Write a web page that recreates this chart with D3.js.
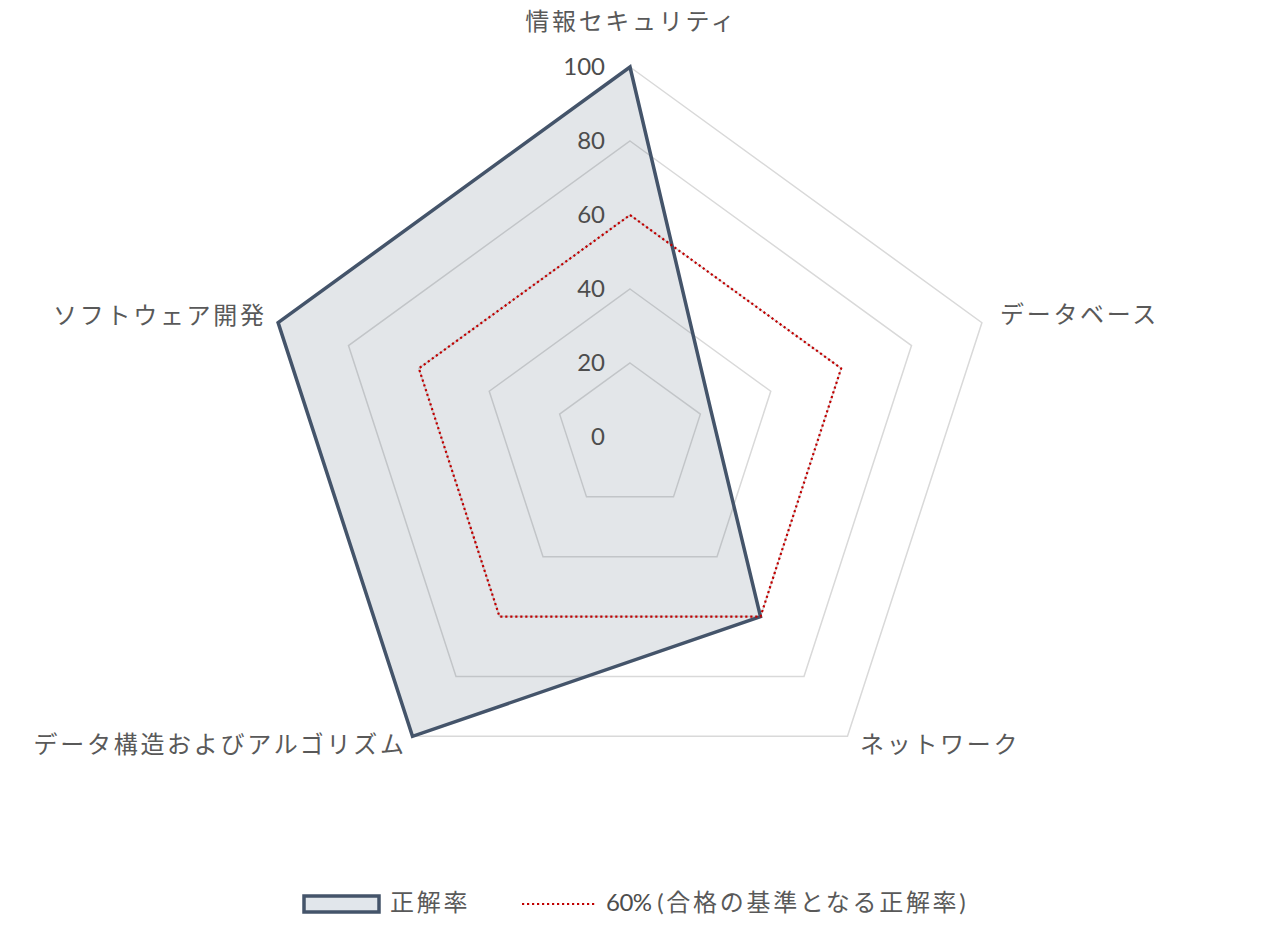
<!DOCTYPE html>
<html><head><meta charset="utf-8">
<script src="https://cdn.jsdelivr.net/npm/d3@7"></script>
<style>
html,body{margin:0;padding:0;background:#fff;}
text{font-family:"Lato","Noto Sans CJK JP",sans-serif;}
</style></head>
<body>
<svg id="c" width="1266" height="940"></svg>
<script>
const categories = ["情報セキュリティ","データベース","ネットワーク","データ構造およびアルゴリズム","ソフトウェア開発"];
const scoreValues = [100, 23, 60, 100, 100];
const passValues = [60, 60, 60, 60, 60];
const tickValues = [0, 20, 40, 60, 80, 100];
const seriesNames = ["正解率", "60% (合格の基準となる正解率)"];

const svg = d3.select("#c");
const cx = 630, cy = 437;
const LS = 2.7;
const r = d3.scaleLinear().domain([0, 100]).range([0, 370]);
const ang = d3.scaleLinear().domain([0, categories.length]).range([0, 2 * Math.PI]);
const pt = (i, v) => [cx + r(v) * Math.sin(ang(i)), cy - r(v) * Math.cos(ang(i))];
const line = d3.line();

// grid rings
tickValues.filter(t => t > 0).forEach(t => {
  svg.append("path")
    .attr("d", line(categories.map((c, i) => pt(i, t))) + "Z")
    .attr("fill", "none").attr("stroke", "#d9d9d9").attr("stroke-width", 1.5);
});

// score series
svg.append("path")
  .attr("d", line(scoreValues.map((v, i) => pt(i, v))) + "Z")
  .attr("fill", "rgb(68,84,106)").attr("fill-opacity", 0.15)
  .attr("stroke", "#44546a").attr("stroke-width", 3.5).attr("stroke-linejoin", "miter");

// pass line
svg.append("path")
  .attr("d", line(passValues.map((v, i) => pt(i, v))) + "Z")
  .attr("fill", "none").attr("stroke", "#c00000").attr("stroke-width", 2.2)
  .attr("stroke-dasharray", "2.2 2.8");

// tick labels
svg.selectAll(".tick").data(tickValues).enter().append("text")
  .attr("x", 605).attr("y", d => cy - r(d))
  .attr("dy", "0.35em").attr("text-anchor", "end")
  .attr("font-size", 24).attr("fill", "#4d4d4d").text(d => d);

// axis labels
const labelPos = [
  {x: 630 + LS / 2, y: 22, a: "middle"},
  {x: 1000, y: 315, a: "start"},
  {x: 860, y: 745, a: "start"},
  {x: 404 + LS, y: 745, a: "end"},
  {x: 264 + LS, y: 316, a: "end"}
];
svg.selectAll(".cat").data(categories).enter().append("text")
  .attr("x", (d, i) => labelPos[i].x).attr("y", (d, i) => labelPos[i].y)
  .attr("dy", "0.35em").attr("text-anchor", (d, i) => labelPos[i].a)
  .attr("letter-spacing", LS)
  .attr("font-size", 24).attr("fill", "#595959").text(d => d);

// legend
const lg = svg.append("g");
lg.append("rect").attr("x", 304).attr("y", 896).attr("width", 75).attr("height", 16)
  .attr("fill", "#e1e6eb").attr("stroke", "#44546a").attr("stroke-width", 3.5);
lg.append("text").attr("x", 390).attr("y", 903).attr("dy", "0.35em")
  .attr("letter-spacing", LS)
  .attr("font-size", 24).attr("fill", "#595959").text(seriesNames[0]);
lg.append("line").attr("x1", 522).attr("x2", 597).attr("y1", 904).attr("y2", 904)
  .attr("stroke", "#c00000").attr("stroke-width", 2.2).attr("stroke-dasharray", "2.2 2.8");
const t2 = lg.append("text").attr("x", 606).attr("y", 903).attr("dy", "0.35em")
  .attr("font-size", 24).attr("fill", "#595959");
t2.append("tspan").attr("fill", "#4d4d4d").attr("letter-spacing", -0.5).text(seriesNames[1].slice(0, 4));
t2.append("tspan").attr("letter-spacing", LS).text(seriesNames[1].slice(4));
</script>
</body></html>
